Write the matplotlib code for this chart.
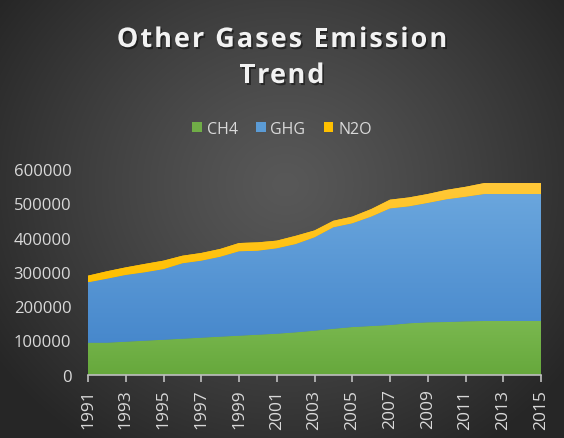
import numpy as np
import matplotlib
matplotlib.use("Agg")
import matplotlib.pyplot as plt
import matplotlib.patheffects as pe
from matplotlib.patches import Patch
from matplotlib.colors import LinearSegmentedColormap

years = list(range(1991, 2016))
ch4 = [93400, 93400, 96300, 99200, 102000, 105000, 108000, 111000, 113800, 116700,
       119600, 123600, 128400, 134000, 139000, 142000, 145000, 150000, 152800, 153700,
       155700, 156700, 156700, 156700, 156700]
ghg = [176100, 186600, 194700, 199500, 206000, 220000, 224600, 233000, 246200, 245000,
       249100, 257400, 272300, 296000, 302600, 319000, 340000, 341000, 348200, 358000,
       363300, 370300, 370300, 370300, 370300]
n2o = [19300, 21600, 22000, 24300, 24600, 22000, 22400, 22700, 24000, 24300,
       22300, 24000, 20000, 19000, 19400, 22000, 25500, 26000, 26000, 27400,
       29000, 32000, 32000, 32000, 32000]
labels = ["CH4", "GHG", "N2O"]
title_lines = ["Other Gases Emission", "Trend"]

W, H = 564, 439
fig = plt.figure(figsize=(W / 100, H / 100), dpi=100)

# radial dark background
bg = fig.add_axes([0, 0, 1, 1], zorder=-10)
yy, xx = np.mgrid[0:H, 0:W]
r = np.sqrt(((xx - 285) / (W * 0.62)) ** 2 + ((yy - 185) / (H * 0.72)) ** 2)
r = np.clip(r, 0, 1)
shade = 0.345 - (0.345 - 0.15) * r ** 1.2
bg.imshow(np.dstack([shade] * 3), aspect="auto", extent=[0, 1, 0, 1])
bg.axis("off")

ax = fig.add_axes([88 / W, 1 - 375.7 / H, 453 / W, 205.7 / H])
ax.set_facecolor("none")

x = np.array(years)
bottoms = [np.zeros(len(x)), np.array(ch4), np.array(ch4) + np.array(ghg)]
tops = [np.array(ch4), np.array(ch4) + np.array(ghg),
        np.array(ch4) + np.array(ghg) + np.array(n2o)]
grads = [("#66a83c", "#7ab84f"), ("#4788cc", "#6aa6dd"), ("#ffc000", "#ffc83a")]
flat = ["#70ad47", "#5b9bd5", "#ffc000"]

for lo, hi, (c0, c1), fc in zip(bottoms, tops, grads, flat):
    poly = ax.fill_between(x, lo, hi, facecolor=fc, edgecolor="none", zorder=2)
    cmap = LinearSegmentedColormap.from_list("g", [c0, c1])
    grad = np.linspace(0, 1, 256).reshape(-1, 1)
    im = ax.imshow(grad, cmap=cmap, origin="lower", aspect="auto",
                   extent=[x[0], x[-1], lo.min(), hi.max()], zorder=3)
    im.set_clip_path(poly.get_paths()[0], transform=ax.transData)

ax.set_xlim(1991, 2015)
ax.set_ylim(0, 600000)
ax.set_yticks(range(0, 600001, 100000))
ax.set_yticklabels([str(v) for v in range(0, 600001, 100000)])
ax.set_xticks(years[::2])
ax.set_xticklabels([str(v) for v in years[::2]], rotation=90)
for s in ["left", "right", "top"]:
    ax.spines[s].set_visible(False)
ax.spines["bottom"].set_color("#bfbfbf")
ax.spines["bottom"].set_linewidth(1.2)
ax.spines["bottom"].set_zorder(5)
ax.tick_params(axis="y", length=0, pad=12, labelcolor="#d9d9d9", labelsize=12)
ax.tick_params(axis="x", length=5, width=1.2, color="#bfbfbf", pad=5,
               labelcolor="#d9d9d9", labelsize=12.5)
for t in ax.get_xticklabels() + ax.get_yticklabels():
    t.set_family("Open Sans")

# title with widened letter spacing
renderer = fig.canvas.get_renderer()
tkw = dict(fontsize=19.5, fontweight="bold", family="Open Sans")


def text_w(s):
    t = fig.text(0, 0, s, **tkw)
    w = t.get_window_extent(renderer).width
    t.remove()
    return w


bar_w = text_w("|")
gap = 2.0
for line, ycen in zip(title_lines, [41, 77]):
    offs = [text_w(line[:i] + "|") - bar_w for i in range(len(line))]
    total = text_w(line) + gap * (len(line) - 1)
    x0 = 282 - total / 2
    for i, ch in enumerate(line):
        if ch == " ":
            continue
        fig.text((x0 + offs[i] + gap * i) / W, 1 - ycen / H, ch, ha="left", va="center",
                 color="#f2f2f2",
                 path_effects=[pe.SimplePatchShadow(offset=(1.2, -1.5), shadow_rgbFace="black", alpha=0.45),
                               pe.Normal()],
                 **tkw)

handles = [Patch(facecolor=c, edgecolor="none") for c in flat]
leg = fig.legend(handles, labels, loc="center", bbox_to_anchor=(0.5, 1 - 130 / H), ncol=3,
                 frameon=False, handlelength=0.6, handleheight=0.6, handletextpad=0.3,
                 columnspacing=1.15, prop={"family": "Open Sans", "size": 11.5})
for t in leg.get_texts():
    t.set_color("#d9d9d9")

fig.savefig("out.png", dpi=100)
